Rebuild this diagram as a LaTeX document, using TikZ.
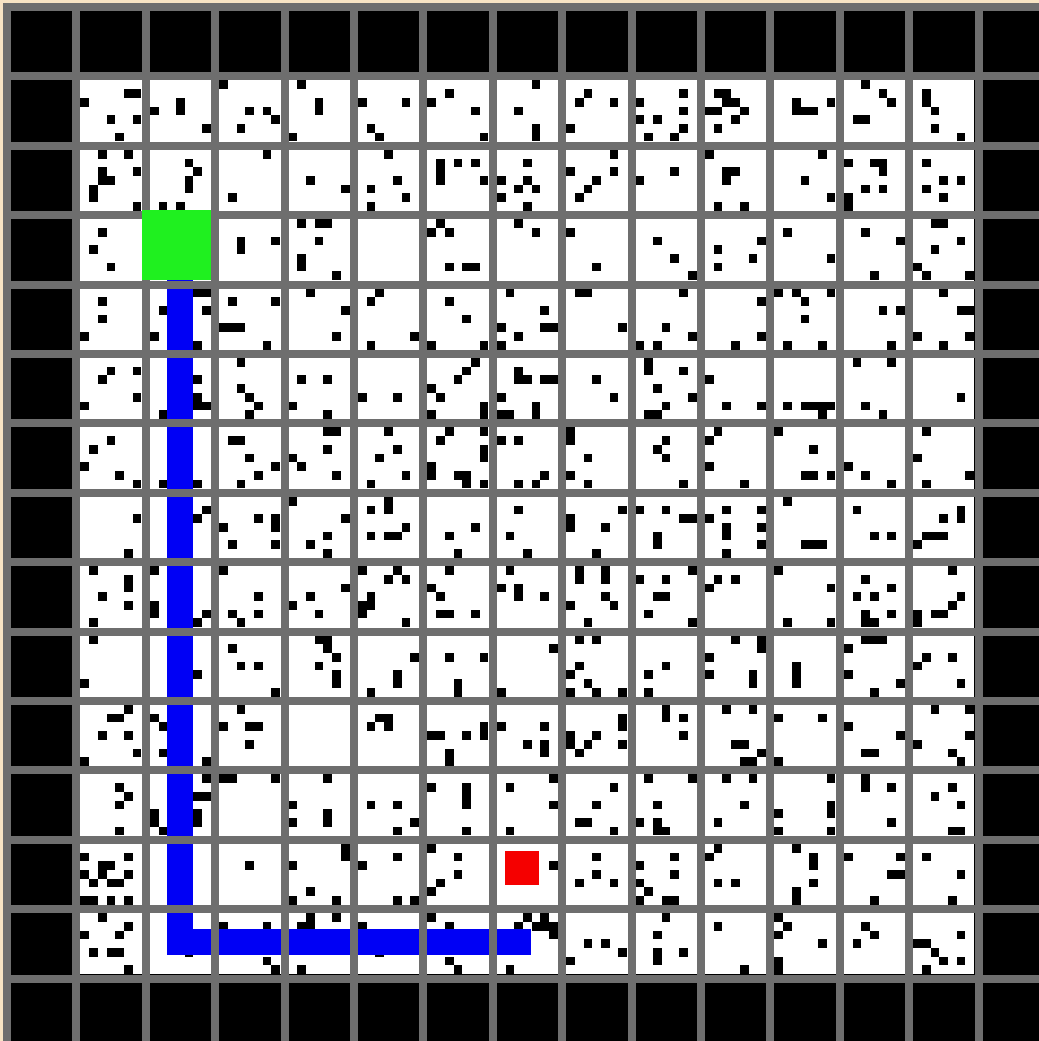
\documentclass[tikz,border=0pt]{standalone}
\usepackage{xcolor}
\usepackage{tikz}
\definecolor{FrameTan}{HTML}{F8E4C4}
\definecolor{GridGray}{HTML}{6E6E6E}
\definecolor{StartGreen}{HTML}{1FF01F}
\definecolor{PathBlue}{HTML}{0000F5}
\definecolor{GoalRed}{HTML}{F50000}

\begin{document}
\begin{tikzpicture}[x=0.5pt, y=-0.5pt]
  \useasboundingbox (0,0) rectangle (1039,1041);
  \fill[FrameTan] (0,0) rectangle (1039,1041);
  \fill[GridGray] (3,3) rectangle (1039,1041);
  % Walls and free cells
  \fill[black] (11,11) rectangle (1039,1041);
  \fill[white] (80.4,80.4) rectangle (974.2,974.2);
  % Obstacles
  \pgfmathsetseed{42}
  \foreach \r in {1,...,13}
    \foreach \c in {1,...,13}
      \foreach \i in {0,...,6}
        \foreach \j in {0,...,6} {
          \pgfmathtruncatemacro\hit{rnd<0.1}
          \ifnum\hit=1
            \fill[black] ({11+69.4*\c+8.714*\i}, {11+69.4*\r+8.714*\j}) rectangle +(8.714,8.714);
          \fi
        }
  % Path
  \draw[PathBlue, line width=13pt, line join=miter] (180.3,245) -- (180.3,941.5) -- (531,941.5);
  % Grid
  \foreach \k in {0,...,14} {
    \fill[GridGray] ({3+69.4*\k},3) rectangle ({11+69.4*\k},1041);
    \fill[GridGray] (3,{3+69.4*\k}) rectangle (1039,{11+69.4*\k});
  }
  % Start and goal
  \fill[StartGreen] (142,210) rectangle (211,280);
  \fill[GoalRed] (505,851) rectangle (539,885);
\end{tikzpicture}
\end{document}
